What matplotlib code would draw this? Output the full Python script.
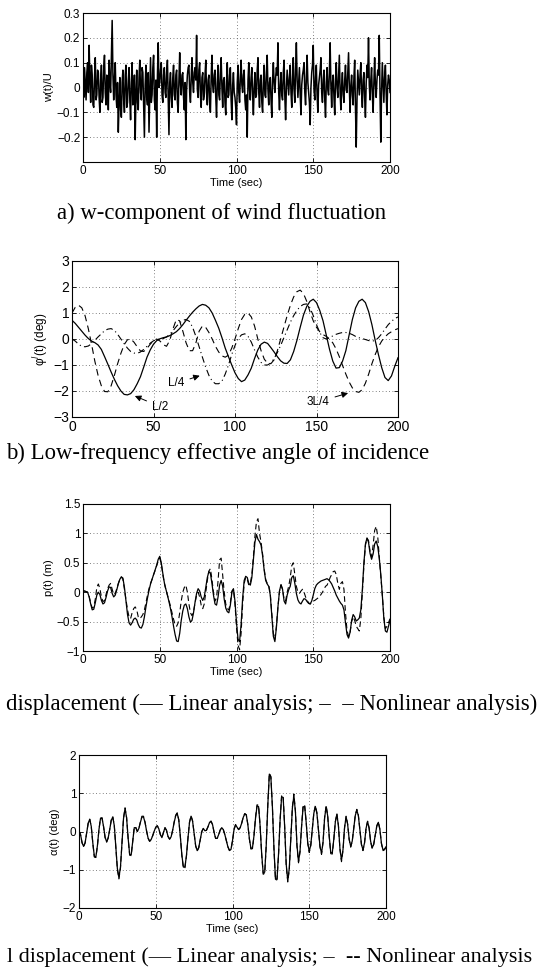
import numpy as np
import matplotlib
matplotlib.use("Agg")
import matplotlib.pyplot as plt

plt.rcParams["font.family"] = ["Liberation Sans", "DejaVu Sans"]
plt.rcParams["axes.unicode_minus"] = True

W, H = 540, 973

# a) w-component of wind fluctuation, w(t)/U, one value every 0.5 s
w_wind = [
    0.02, -0.04, 0.08, 0.01, -0.05, 0.06, 0.10, -0.02, 0.17, 0.03, -0.06, 0.09, 0.05, -0.07, -0.08, 0.04, 0.12, -0.05, -0.03, 0.07,
    0.06, -0.04, -0.10, 0.03, 0.09, -0.06, -0.04, 0.08, 0.13, -0.02, -0.07, 0.05, 0.03, -0.09, 0.11, 0.02, -0.02, 0.12, 0.27, 0.05,
    -0.05, 0.04, 0.10, -0.03, -0.08, 0.02, -0.18, -0.06, 0.04, -0.09, -0.12, 0.02, 0.07, -0.05, -0.10, 0.05, 0.09, -0.08, -0.06, 0.03,
    0.08, -0.05, -0.13, 0.02, 0.10, -0.07, -0.04, 0.05, -0.21, -0.03, 0.07, -0.06, -0.09, 0.04, 0.11, -0.02, -0.05, 0.08, 0.06, -0.07,
    -0.20, 0.01, 0.09, -0.04, -0.07, 0.06, -0.18, -0.02, 0.12, -0.06, -0.03, 0.08, 0.13, -0.05, -0.09, 0.03, -0.20, 0.05, 0.18, 0.00,
    0.02, 0.07, 0.10, -0.03, -0.06, 0.05, 0.08, -0.02, -0.04, 0.06, 0.11, -0.05, -0.19, 0.02, 0.06, -0.04, -0.08, 0.04, 0.09, -0.03,
    -0.05, 0.05, 0.07, -0.06, -0.10, 0.03, 0.14, 0.01, -0.03, 0.05, 0.06, -0.04, -0.09, 0.02, -0.21, -0.01, 0.05, 0.08, 0.09, -0.02,
    -0.06, 0.04, 0.12, 0.02, -0.02, 0.06, 0.08, 0.03, 0.21, -0.01, -0.04, 0.07, 0.10, -0.03, -0.08, 0.04, 0.06, -0.05, -0.03, 0.05,
    0.11, -0.02, -0.07, 0.03, 0.05, -0.06, -0.10, 0.04, 0.13, 0.01, -0.02, 0.05, 0.07, -0.04, -0.12, 0.02, 0.09, -0.03, -0.05, 0.06,
    0.12, 0.00, -0.08, 0.03, 0.04, -0.06, -0.11, 0.02, 0.10, -0.04, -0.03, 0.05, 0.08, -0.05, -0.13, 0.01, 0.06, -0.02, -0.04, -0.08,
    -0.15, 0.02, 0.09, -0.02, -0.06, 0.04, 0.11, 0.01, -0.02, 0.05, 0.07, -0.05, -0.09, -0.03, -0.20, 0.03, 0.10, -0.01, -0.05, 0.04,
    0.08, -0.03, -0.11, 0.00, 0.06, -0.04, -0.03, 0.07, 0.12, -0.02, -0.08, 0.03, 0.05, -0.06, -0.10, 0.02, 0.09, -0.03, -0.04, 0.06,
    0.13, -0.01, -0.07, 0.02, 0.04, -0.05, -0.12, 0.03, 0.10, 0.02, -0.02, 0.04, 0.08, 0.05, 0.18, -0.02, -0.09, 0.01, 0.06, -0.03,
    -0.05, 0.06, 0.11, -0.04, -0.13, 0.00, 0.07, 0.02, -0.03, 0.04, 0.09, -0.02, -0.08, 0.03, 0.12, -0.01, -0.06, 0.07, 0.18, 0.03,
    -0.04, 0.02, 0.08, -0.03, -0.11, 0.01, 0.05, 0.07, 0.10, -0.02, -0.07, 0.04, 0.13, 0.02, -0.02, -0.06, -0.15, 0.00, 0.06, 0.09,
    0.17, -0.01, -0.05, 0.04, 0.09, -0.03, -0.10, 0.01, 0.04, 0.07, 0.12, -0.02, -0.06, 0.03, 0.07, -0.05, -0.12, 0.02, 0.08, -0.01,
    -0.03, 0.06, 0.18, 0.01, -0.08, 0.02, 0.05, -0.04, -0.11, 0.03, 0.10, 0.00, -0.04, 0.05, 0.13, -0.02, -0.09, 0.01, 0.06, -0.03,
    -0.06, 0.03, 0.09, -0.01, -0.02, 0.06, 0.14, 0.00, -0.10, 0.01, 0.05, -0.03, -0.07, 0.04, 0.11, -0.08, -0.24, -0.05, 0.07, 0.02,
    -0.03, 0.05, 0.10, -0.02, -0.08, 0.03, 0.06, -0.04, -0.12, 0.02, 0.09, 0.04, 0.20, 0.01, -0.05, 0.03, 0.08, -0.03, -0.10, 0.02,
    0.12, 0.01, -0.04, 0.03, 0.07, 0.05, 0.21, -0.03, -0.22, -0.02, 0.10, 0.02, -0.06, 0.04, 0.09, -0.02, -0.11, 0.01, 0.05, 0.03,
    -0.02,
]

# b) low-frequency effective angle of incidence (deg), one value every 2 s
phi_L2 = [
    0.72, 0.60, 0.45, 0.30, 0.15, 0.02, -0.08, -0.14, -0.23, -0.40,
    -0.68, -0.97, -1.27, -1.55, -1.80, -2.00, -2.13, -2.15, -2.10, -1.95,
    -1.72, -1.45, -1.08, -0.70, -0.42, -0.20, -0.06, 0.01, 0.05, 0.08,
    0.13, 0.20, 0.28, 0.40, 0.55, 0.72, 0.88, 1.03, 1.16, 1.27,
    1.33, 1.30, 1.20, 1.00, 0.72, 0.42, 0.05, -0.35, -0.68, -1.00,
    -1.30, -1.52, -1.64, -1.58, -1.38, -1.12, -0.75, -0.42, -0.20, -0.12,
    -0.17, -0.33, -0.50, -0.68, -0.84, -0.93, -0.94, -0.80, -0.48, -0.05,
    0.45, 0.92, 1.25, 1.45, 1.53, 1.40, 1.10, 0.70, 0.15, -0.40,
    -0.85, -1.12, -1.10, -0.85, -0.45, 0.15, 0.75, 1.20, 1.45, 1.53,
    1.40, 1.05, 0.55, -0.05, -0.60, -1.10, -1.48, -1.60, -1.42, -1.05,
    -0.72,
]
phi_3L4 = [
    1.00, 1.22, 1.30, 1.20, 0.90, 0.40, -0.20, -0.85, -1.40, -1.80,
    -2.02, -2.03, -1.80, -1.40, -0.95, -0.55, -0.22, -0.03, 0.00, -0.12,
    -0.30, -0.46, -0.48, -0.36, -0.20, -0.06, 0.00, -0.08, -0.22, -0.28,
    -0.05, 0.40, 0.75, 0.70, 0.30, -0.15, -0.45, -0.45, -0.15, 0.30,
    0.50, 0.45, 0.25, 0.00, -0.28, -0.50, -0.65, -0.70, -0.62, -0.35,
    0.00, 0.40, 0.75, 0.95, 1.00, 0.85, 0.50, 0.00, -0.45, -0.78,
    -0.93, -0.95, -0.80, -0.45, 0.00, 0.45, 0.90, 1.30, 1.62, 1.82,
    1.88, 1.75, 1.45, 1.05, 0.70, 0.45, 0.28, 0.17, 0.10, 0.00,
    -0.15, -0.38, -0.68, -1.02, -1.35, -1.65, -1.88, -2.02, -2.05, -1.95,
    -1.70, -1.35, -0.95, -0.60, -0.30, -0.08, 0.08, 0.20, 0.28, 0.35,
    0.40,
]
phi_L4 = [
    0.00, -0.08, -0.20, -0.28, -0.30, -0.27, -0.18, -0.05, 0.08, 0.20,
    0.32, 0.38, 0.40, 0.33, 0.18, 0.00, -0.18, -0.35, -0.48, -0.54,
    -0.55, -0.50, -0.40, -0.28, -0.16, -0.07, -0.02, 0.00, 0.02, 0.08,
    0.18, 0.32, 0.48, 0.62, 0.72, 0.75, 0.68, 0.45, 0.10, -0.30,
    -0.70, -1.08, -1.40, -1.62, -1.72, -1.72, -1.62, -1.35, -1.00, -0.60,
    -0.25, 0.02, 0.16, 0.20, 0.10, -0.12, -0.42, -0.70, -0.90, -1.00,
    -1.00, -0.92, -0.75, -0.52, -0.25, 0.05, 0.35, 0.65, 0.90, 1.10,
    1.25, 1.33, 1.35, 1.20, 0.90, 0.55, 0.25, 0.05, 0.00, 0.05,
    0.12, 0.18, 0.22, 0.25, 0.25, 0.22, 0.17, 0.10, 0.05, 0.02,
    -0.02, -0.06, -0.08, -0.06, 0.05, 0.20, 0.38, 0.55, 0.68, 0.78,
    0.85,
]

# c) horizontal displacement p(t) (m), one value per second
p_lin = [
    0.02, 0.02, 0.01, 0.00, -0.08, -0.20, -0.30, -0.29, -0.18, -0.05,
    0.00, -0.04, -0.14, -0.20, -0.18, -0.09, 0.02, 0.09, 0.08, -0.02,
    -0.08, -0.05, 0.04, 0.14, 0.22, 0.26, 0.24, 0.08, -0.15, -0.38,
    -0.52, -0.56, -0.52, -0.46, -0.44, -0.47, -0.55, -0.60, -0.61, -0.55,
    -0.42, -0.25, -0.10, 0.03, 0.14, 0.22, 0.30, 0.38, 0.46, 0.56,
    0.61, 0.50, 0.32, 0.16, 0.05, -0.05, -0.16, -0.28, -0.42, -0.58,
    -0.72, -0.83, -0.84, -0.70, -0.48, -0.32, -0.22, -0.20, -0.28, -0.42,
    -0.51, -0.48, -0.35, -0.17, -0.02, 0.06, 0.02, -0.08, -0.14, -0.08,
    0.08, 0.25, 0.35, 0.32, 0.15, -0.05, -0.20, -0.22, -0.08, 0.12,
    0.20, 0.10, -0.12, -0.27, -0.33, -0.35, -0.22, 0.00, 0.06, -0.15,
    -0.52, -0.80, -0.84, -0.55, -0.10, 0.20, 0.27, 0.25, 0.15, 0.12,
    0.25, 0.55, 0.85, 0.98, 0.90, 0.86, 0.80, 0.62, 0.38, 0.20,
    0.14, 0.10, -0.05, -0.40, -0.75, -0.84, -0.60, -0.25, 0.02, 0.13,
    0.05, -0.15, -0.20, -0.05, 0.04, 0.10, 0.25, 0.28, 0.15, -0.02,
    -0.13, -0.18, -0.20, -0.15, -0.11, -0.12, -0.16, -0.19, -0.20, -0.15,
    -0.05, 0.06, 0.12, 0.15, 0.17, 0.19, 0.20, 0.21, 0.22, 0.23,
    0.21, 0.18, 0.14, 0.08, 0.02, -0.05, -0.10, -0.15, -0.19, -0.22,
    -0.30, -0.52, -0.72, -0.78, -0.68, -0.48, -0.38, -0.42, -0.49, -0.47,
    -0.44, -0.30, 0.05, 0.50, 0.82, 0.92, 0.85, 0.66, 0.56, 0.65,
    0.82, 0.87, 0.78, 0.58, 0.30, -0.05, -0.45, -0.66, -0.68, -0.58,
    -0.48,
]
p_nonlin = [
    0.02, 0.02, 0.01, 0.00, -0.07, -0.18, -0.27, -0.25, -0.12, 0.08,
    0.14, 0.06, -0.08, -0.16, -0.14, -0.04, 0.06, 0.12, 0.15, 0.05,
    -0.04, -0.02, 0.06, 0.15, 0.22, 0.26, 0.22, 0.05, -0.12, -0.30,
    -0.42, -0.45, -0.35, -0.28, -0.25, -0.30, -0.42, -0.45, -0.42, -0.38,
    -0.30, -0.18, -0.05, 0.06, 0.15, 0.22, 0.30, 0.37, 0.45, 0.53,
    0.58, 0.48, 0.30, 0.15, 0.04, -0.05, -0.14, -0.24, -0.35, -0.46,
    -0.55, -0.58, -0.52, -0.35, -0.15, 0.00, 0.08, 0.12, 0.00, -0.20,
    -0.35, -0.40, -0.33, -0.18, -0.05, 0.00, -0.08, -0.22, -0.28, -0.20,
    0.00, 0.20, 0.36, 0.40, 0.22, 0.00, -0.15, -0.10, 0.20, 0.55,
    0.58, 0.30, 0.00, -0.20, -0.28, -0.30, -0.18, 0.02, 0.05, -0.20,
    -0.60, -0.90, -0.98, -0.70, -0.20, 0.15, 0.25, 0.22, 0.12, 0.15,
    0.30, 0.60, 0.95, 1.20, 1.25, 1.00, 0.85, 0.65, 0.40, 0.22,
    0.15, 0.12, -0.02, -0.35, -0.70, -0.80, -0.58, -0.25, 0.02, 0.12,
    0.05, -0.12, -0.15, 0.00, 0.10, 0.25, 0.45, 0.50, 0.30, 0.10,
    0.00, -0.02, 0.02, 0.05, 0.00, -0.08, -0.14, -0.18, -0.20, -0.18,
    -0.15, -0.14, -0.12, -0.10, -0.08, -0.04, 0.00, 0.05, 0.10, 0.12,
    0.18, 0.25, 0.30, 0.35, 0.36, 0.30, 0.15, 0.05, 0.15, 0.18,
    0.05, -0.35, -0.65, -0.75, -0.68, -0.50, -0.42, -0.48, -0.58, -0.62,
    -0.66, -0.45, 0.00, 0.45, 0.80, 0.92, 0.88, 0.70, 0.60, 0.80,
    1.05, 1.12, 0.95, 0.60, 0.28, -0.05, -0.42, -0.62, -0.58, -0.52,
    -0.45,
]

# d) torsional displacement alpha(t) (deg), one value per second
a_lin = [
    0.02, -0.08, -0.29, -0.39, -0.29, -0.03, 0.22, 0.32, 0.13, -0.30,
    -0.65, -0.66, -0.37, 0.05, 0.34, 0.35, 0.13, -0.15, -0.27, -0.17,
    0.05, 0.29, 0.38, 0.15, -0.41, -0.97, -1.20, -0.94, -0.30, 0.34,
    0.60, 0.36, -0.17, -0.60, -0.61, -0.25, 0.10, 0.10, 0.00, 0.08,
    0.24, 0.38, 0.38, 0.24, 0.02, -0.17, -0.25, -0.21, -0.11, 0.01,
    0.11, 0.15, 0.07, -0.08, -0.16, -0.03, 0.10, 0.03, -0.13, -0.20,
    -0.14, 0.03, 0.24, 0.41, 0.47, 0.30, -0.12, -0.61, -0.93, -0.93,
    -0.63, -0.17, 0.24, 0.40, 0.27, -0.05, -0.37, -0.50, -0.42, -0.21,
    0.00, 0.08, 0.02, 0.03, 0.12, 0.23, 0.27, 0.18, -0.02, -0.18,
    -0.18, -0.08, 0.04, 0.10, 0.05, -0.08, -0.24, -0.40, -0.49, -0.47,
    -0.24, 0.05, 0.18, 0.11, 0.05, 0.10, 0.22, 0.37, 0.46, 0.43,
    0.18, -0.19, -0.44, -0.43, -0.11, 0.35, 0.67, 0.65, 0.14, -0.58,
    -1.09, -1.06, -0.34, 0.69, 1.50, 1.42, 0.64, -0.43, -1.25, -1.24,
    -0.58, 0.29, 0.91, 0.89, 0.11, -0.86, -1.29, -0.96, -0.17, 0.61,
    0.94, 0.51, -0.36, -0.79, -0.51, 0.13, 0.64, 0.66, 0.24, -0.29,
    -0.52, -0.35, 0.07, 0.48, 0.65, 0.47, 0.04, -0.39, -0.57, -0.27,
    0.35, 0.65, 0.41, -0.12, -0.55, -0.56, -0.20, 0.25, 0.45, 0.15,
    -0.45, -0.75, -0.47, 0.10, 0.38, 0.19, -0.20, -0.39, -0.25, 0.09,
    0.42, 0.56, 0.41, 0.04, -0.33, -0.48, -0.30, 0.08, 0.26, 0.09,
    -0.26, -0.43, -0.33, -0.10, 0.14, 0.24, 0.06, -0.30, -0.48, -0.46,
    -0.40,
]
a_nonlin = [
    0.02, -0.08, -0.30, -0.40, -0.30, -0.03, 0.22, 0.32, 0.12, -0.31,
    -0.67, -0.68, -0.38, 0.05, 0.35, 0.36, 0.13, -0.16, -0.28, -0.17,
    0.05, 0.30, 0.39, 0.15, -0.42, -0.99, -1.24, -0.96, -0.30, 0.35,
    0.62, 0.37, -0.17, -0.62, -0.63, -0.25, 0.11, 0.11, 0.00, 0.08,
    0.25, 0.40, 0.40, 0.25, 0.02, -0.18, -0.26, -0.22, -0.11, 0.01,
    0.11, 0.15, 0.07, -0.08, -0.16, -0.03, 0.10, 0.03, -0.13, -0.20,
    -0.14, 0.03, 0.25, 0.43, 0.49, 0.31, -0.12, -0.63, -0.96, -0.95,
    -0.64, -0.17, 0.25, 0.41, 0.28, -0.05, -0.38, -0.51, -0.43, -0.21,
    0.00, 0.08, 0.02, 0.03, 0.12, 0.23, 0.27, 0.18, -0.02, -0.18,
    -0.18, -0.08, 0.04, 0.10, 0.05, -0.08, -0.24, -0.40, -0.50, -0.48,
    -0.24, 0.05, 0.18, 0.11, 0.05, 0.10, 0.22, 0.38, 0.47, 0.44,
    0.18, -0.20, -0.46, -0.45, -0.11, 0.37, 0.70, 0.68, 0.14, -0.60,
    -1.12, -1.09, -0.35, 0.71, 1.52, 1.44, 0.65, -0.45, -1.27, -1.26,
    -0.60, 0.30, 0.95, 0.93, 0.11, -0.89, -1.32, -0.99, -0.17, 0.64,
    0.98, 0.53, -0.38, -0.82, -0.53, 0.14, 0.68, 0.70, 0.25, -0.31,
    -0.55, -0.37, 0.07, 0.50, 0.68, 0.49, 0.04, -0.41, -0.60, -0.28,
    0.37, 0.68, 0.43, -0.13, -0.58, -0.59, -0.21, 0.26, 0.47, 0.16,
    -0.47, -0.79, -0.49, 0.10, 0.40, 0.20, -0.21, -0.41, -0.26, 0.09,
    0.44, 0.58, 0.43, 0.04, -0.35, -0.50, -0.31, 0.08, 0.27, 0.09,
    -0.27, -0.45, -0.34, -0.10, 0.15, 0.25, 0.06, -0.31, -0.50, -0.48,
    -0.42,
]

t_half = np.arange(len(w_wind)) * 0.5   # 0.5 s step
t1 = np.arange(len(p_lin))              # 1 s step
t2 = np.arange(len(phi_L2)) * 2.0       # 2 s step

captions = [
    "a) w-component of wind fluctuation",
    "b) Low-frequency effective angle of incidence",
    "displacement (\u2014 Linear analysis; \u2013  \u2013 Nonlinear analysis)",
    "l displacement (\u2014 Linear analysis; \u2013  -- Nonlinear analysis",
]
cap_size = [16.4, 16.4, 16.4, 16.0]


def box(l, r, t, b):
    return [l / W, 1 - b / H, (r - l) / W, (b - t) / H]


def style(ax, yticks, ylabels, ylim, tick_fs=8.5):
    ax.set_xlim(0, 200)
    ax.set_ylim(*ylim)
    ax.set_xticks([0, 50, 100, 150, 200])
    ax.set_yticks(yticks)
    ax.set_yticklabels(ylabels)
    ax.tick_params(direction="in", top=True, right=True, length=3, width=0.6,
                   labelsize=tick_fs, pad=2)
    ax.grid(True, linestyle=(0, (1, 3)), linewidth=0.6, color="0.35")
    for s in ax.spines.values():
        s.set_linewidth(0.8)


fig = plt.figure(figsize=(W / 100, H / 100), dpi=100)

# a)
ax = fig.add_axes(box(83, 390, 13, 162))
ax.plot(t_half, w_wind, color="black", lw=1.1)
style(ax, [-0.2, -0.1, 0, 0.1, 0.2, 0.3],
      ["\u22120.2", "\u22120.1", "0", "0.1", "0.2", "0.3"], (-0.3, 0.3))
ax.set_ylabel("w(t)/U", fontsize=8, labelpad=2)
ax.set_xlabel("Time (sec)", fontsize=8, labelpad=1)

# b)
ax = fig.add_axes(box(72, 398, 261, 417))
ax.plot(t2, phi_L2, color="black", lw=0.9, ls="-")
ax.plot(t2, phi_3L4, color="black", lw=0.8, ls=(0, (6, 4)))
ax.plot(t2, phi_L4, color="black", lw=0.8, ls=(0, (6, 3, 1, 3)))
style(ax, [-3, -2, -1, 0, 1, 2, 3],
      ["\u22123", "\u22122", "\u22121", "0", "1", "2", "3"], (-3, 3), tick_fs=10)
ax.set_ylabel("\u03c6$^{l}$(t) (deg)", fontsize=8.5, labelpad=2)
arrow = dict(arrowstyle="-|>", color="black", lw=0.7, mutation_scale=9)
ax.annotate("L/2", xy=(37, -2.15), xytext=(49, -2.6), fontsize=8.5,
            va="center", arrowprops=arrow)
ax.annotate("L/4", xy=(80, -1.38), xytext=(59, -1.7), fontsize=8.5,
            va="center", arrowprops=arrow)
ax.annotate("3L/4", xy=(171, -2.05), xytext=(144, -2.42), fontsize=8.5,
            va="center", arrowprops=arrow)

# c)
ax = fig.add_axes(box(83, 390, 504, 651))
ax.plot(t1, p_lin, color="black", lw=0.9, ls="-")
ax.plot(t1, p_nonlin, color="black", lw=0.8, ls=(0, (5, 3)))
style(ax, [-1, -0.5, 0, 0.5, 1, 1.5],
      ["\u22121", "\u22120.5", "0", "0.5", "1", "1.5"], (-1, 1.5))
ax.set_ylabel("p(t) (m)", fontsize=8, labelpad=2)
ax.set_xlabel("Time (sec)", fontsize=8, labelpad=1)

# d)
ax = fig.add_axes(box(79, 386, 755, 908))
ax.plot(t1, a_lin, color="black", lw=0.9, ls="-")
ax.plot(t1, a_nonlin, color="black", lw=0.8, ls=(0, (5, 3)))
style(ax, [-2, -1, 0, 1, 2], ["\u22122", "\u22121", "0", "1", "2"], (-2, 2))
ax.set_ylabel("\u03b1(t) (deg)", fontsize=8, labelpad=2)
ax.set_xlabel("Time (sec)", fontsize=8, labelpad=1)

# captions below each panel
cap_pos = [(57, 213), (6, 453), (6, 704), (7, 957)]
for (x, y), txt, fs in zip(cap_pos, captions, cap_size):
    fig.text(x / W, 1 - y / H, txt, fontsize=fs, family="Liberation Serif",
             ha="left", va="center")

fig.savefig("out.png", dpi=100)
